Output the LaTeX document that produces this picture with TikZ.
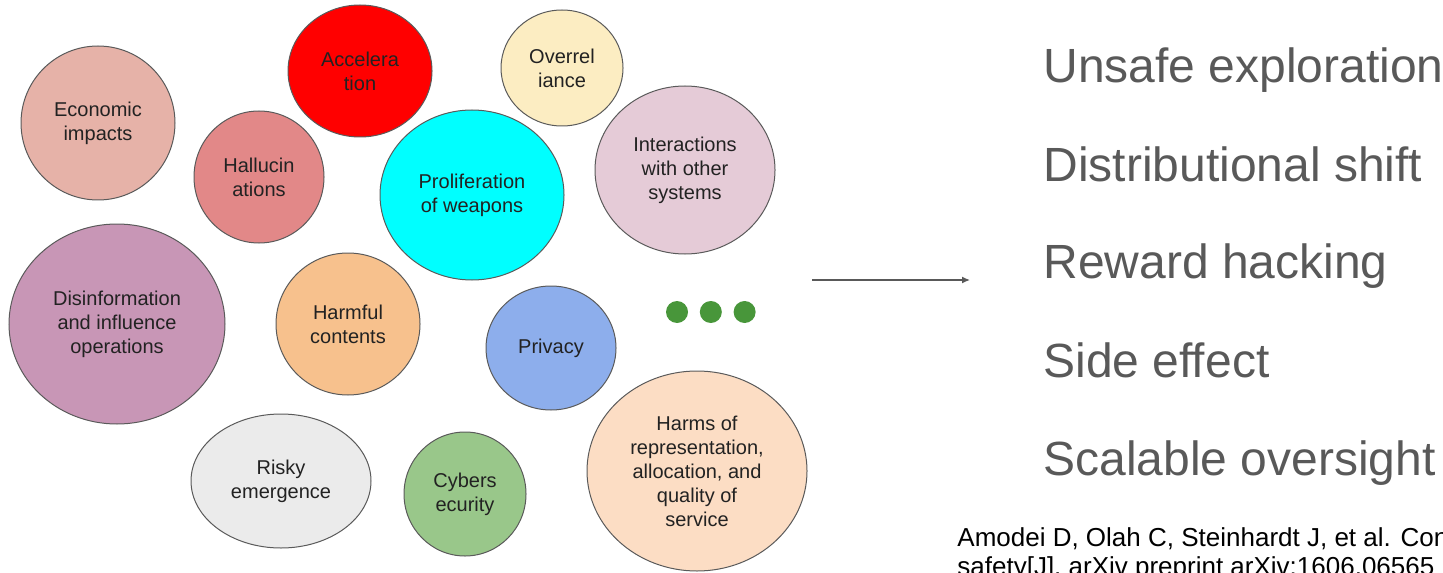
\documentclass[tikz,border=0pt]{standalone}
\usepackage{fontspec}
\setmainfont{Liberation Sans}
\usetikzlibrary{arrows.meta,positioning,shapes.geometric}
\definecolor{bubbleline}{RGB}{90,90,90}
\definecolor{bubbletext}{RGB}{34,34,34}
\definecolor{listgray}{RGB}{89,89,89}
\definecolor{econpink}{RGB}{230,178,168}
\definecolor{accred}{RGB}{255,0,0}
\definecolor{hallured}{RGB}{226,136,136}
\definecolor{profcyan}{RGB}{0,255,255}
\definecolor{overyellow}{RGB}{252,237,194}
\definecolor{interpink}{RGB}{229,203,215}
\definecolor{disinfmauve}{RGB}{200,150,182}
\definecolor{harmorange}{RGB}{247,193,141}
\definecolor{privblue}{RGB}{141,174,236}
\definecolor{riskygray}{RGB}{235,235,235}
\definecolor{cybergreen}{RGB}{153,199,138}
\definecolor{harmspeach}{RGB}{252,221,196}
\definecolor{dotgreen}{RGB}{72,150,58}

\begin{document}
\begin{tikzpicture}[x=0.5pt,y=-0.5pt,
    bubble/.style={ellipse,draw=bubbleline,line width=0.5pt,inner sep=0pt,align=center,
      text=bubbletext,font=\fontsize{10}{12}\selectfont},
    riskitem/.style={anchor=base west,inner sep=0pt,text=listgray,font=\fontsize{24}{28}\selectfont},
    cite/.style={anchor=base west,inner sep=0pt,font=\fontsize{13}{14.5}\selectfont},
    dot/.style={circle,fill=dotgreen,minimum size=11pt,inner sep=0pt},
    arrow/.style={-{Latex[length=4pt,width=3.5pt]},line width=0.7pt,draw=listgray}]
  \useasboundingbox (0,0) rectangle (1443,572);
  \clip (0,0) rectangle (1443,572);

  % risk bubbles
  \node[bubble,fill=econpink,minimum width=77pt,minimum height=77pt] (econ) at (98,123) {Economic\\impacts};
  \node[bubble,fill=accred,minimum width=72pt,minimum height=66pt] (accel) at (360,71) {Accelera\\tion};
  \node[bubble,fill=hallured,minimum width=65pt,minimum height=66pt] (halluc) at (259,177) {Hallucin\\ations};
  \node[bubble,fill=profcyan,minimum width=92pt,minimum height=85pt] (prolif) at (472,195) {Proliferation\\of weapons};
  \node[bubble,fill=overyellow,minimum width=61pt,minimum height=58pt] (overrel) at (562,68) {Overrel\\iance};
  \node[bubble,fill=interpink,minimum width=90pt,minimum height=84pt] (interact) at (685,170) {Interactions\\with other\\systems};
  \node[bubble,fill=disinfmauve,minimum width=108pt,minimum height=100pt] (disinf) at (117,324) {Disinformation\\and influence\\operations};
  \node[bubble,fill=harmorange,minimum width=72pt,minimum height=71pt] (harmful) at (348,324) {Harmful\\contents};
  \node[bubble,fill=privblue,minimum width=65pt,minimum height=62pt] (privacy) at (551,348) {Privacy};
  \node[bubble,fill=riskygray,minimum width=90pt,minimum height=67pt] (risky) at (281,481) {Risky\\emergence};
  \node[bubble,fill=cybergreen,minimum width=61pt,minimum height=62pt] (cyber) at (465,494) {Cybers\\ecurity};
  \node[bubble,fill=harmspeach,minimum width=110pt,minimum height=100pt] (harms) at (697,471) {Harms of\\representation,\\allocation, and\\quality of\\service};

  % and so on
  \node[dot] (dot1) at (677,312) {};
  \node[dot,right=5.5pt of dot1] (dot2) {};
  \node[dot,right=5.5pt of dot2] (dot3) {};

  \coordinate (arrfrom) at (812,280);
  \coordinate (arrto) at (970,280);
  \draw[arrow] (arrfrom) -- (arrto);

  % concrete problems
  \node[riskitem] (unsafe) at (1043,83) {Unsafe exploration};
  \node[riskitem] (shift) at (1043,182) {Distributional shift};
  \node[riskitem] (reward) at (1043,278) {Reward hacking};
  \node[riskitem] (side) at (1043,377) {Side effect};
  \node[riskitem] (oversight) at (1043,475) {Scalable oversight};

  \node[cite] (cite1) at (957,546) {Amodei D, Olah C, Steinhardt J, et al. Con};
  \node[cite] (cite2) at (957,575) {safety[J]. arXiv preprint arXiv:1606.06565};
\end{tikzpicture}
\end{document}
